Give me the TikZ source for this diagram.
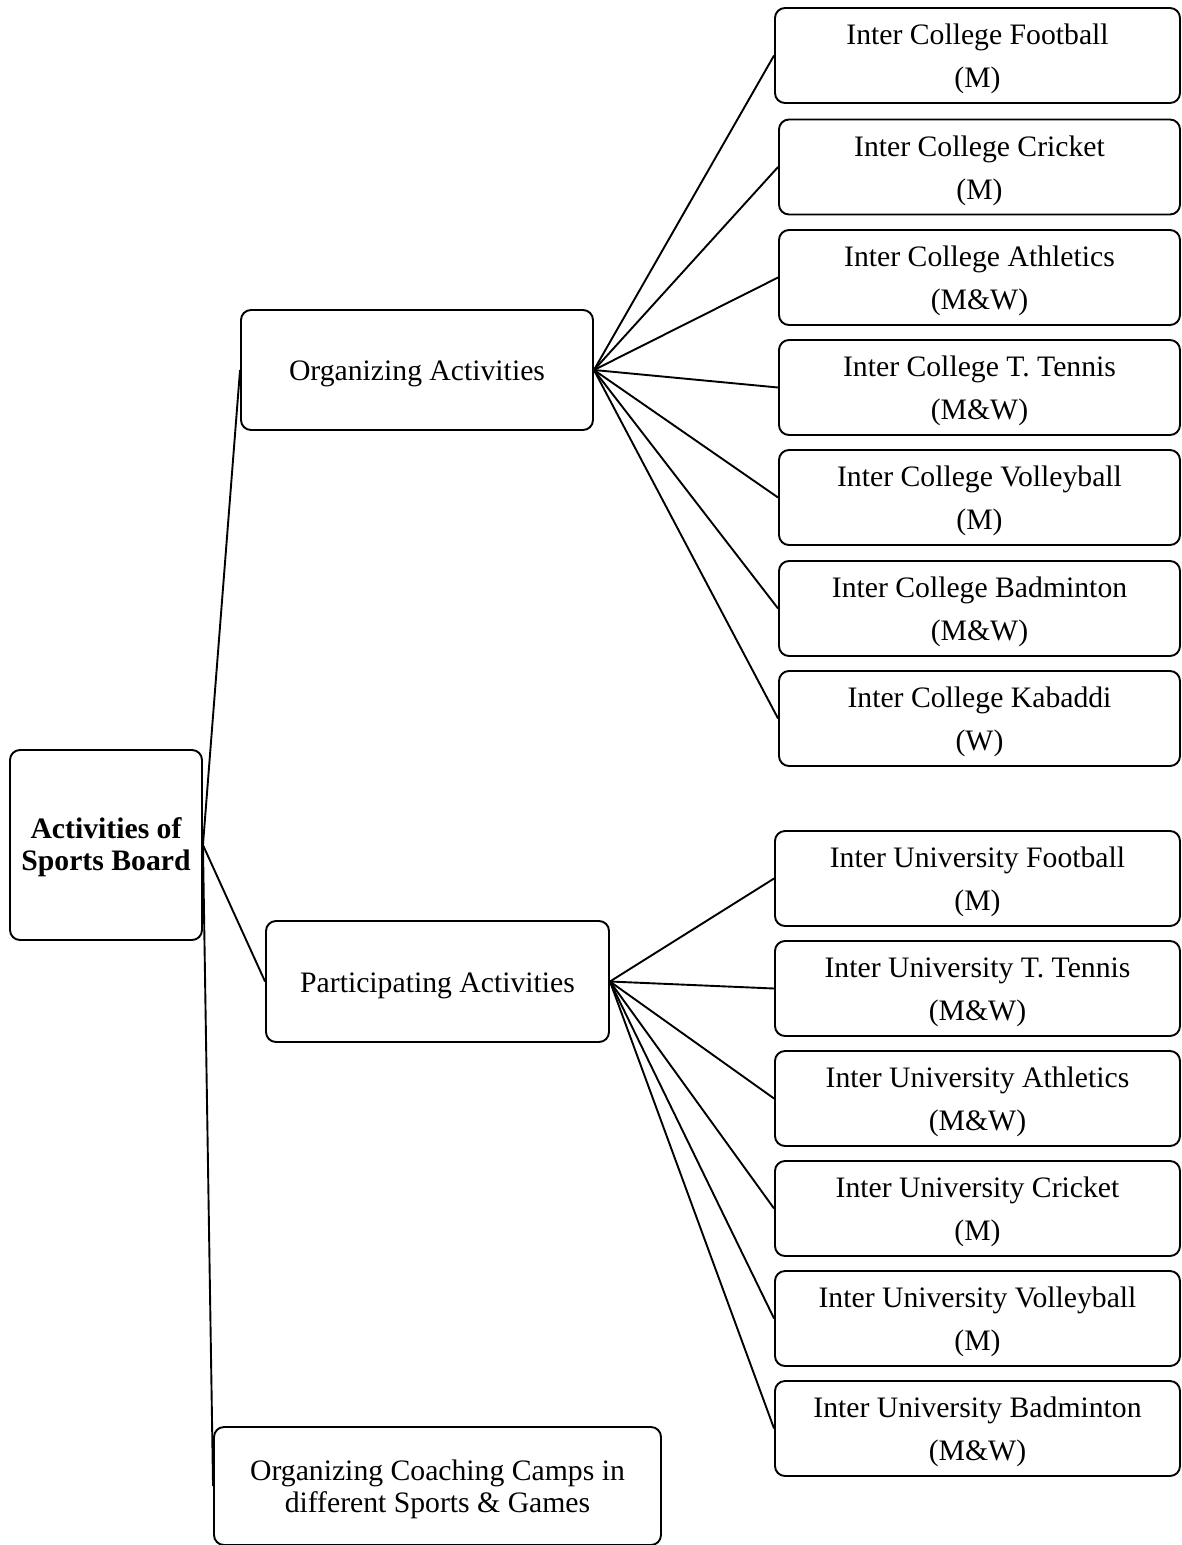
\documentclass[tikz,border=0pt]{standalone}
\usepackage{fontspec}
\setmainfont{Liberation Serif}
\newcommand\twoline[3][28pt]{\rule{0pt}{#1}#2\\#3}
\begin{document}
\begin{tikzpicture}[x=1pt,y=-1pt,
  box/.style={draw, line width=1.9pt, rounded corners=10pt, inner sep=0pt, align=center,
    font=\fontsize{29.7}{43}\selectfont},
  oneline/.style={box, execute at begin node={\rule{0pt}{28pt}}},
  leaf/.style={box, minimum width=401pt, minimum height=95pt},
  link/.style={line width=1.9pt}]
\useasboundingbox (0,0) rectangle (1182,1545);
% main nodes
\node[box, minimum width=192pt, minimum height=190pt, font=\fontsize{29.7}{32}\selectfont\bfseries] (root) at (106,845) {\twoline[25pt]{Activities of}{Sports Board}};
\node[oneline, minimum width=352pt, minimum height=120pt] (org) at (417,370) {Organizing Activities};
\node[oneline, minimum width=343pt, minimum height=121pt] (part) at (437.5,981.5) {Participating Activities};
\node[box, minimum width=447pt, minimum height=118pt, font=\fontsize{29.7}{32}\selectfont] (coach) at (437.5,1486) {\twoline[27pt]{Organizing Coaching Camps in}{different Sports \& Games}};
% college
\node[leaf, minimum width=405pt] (c1) at (977.5,55.5) {\twoline{Inter College Football}{(M)}};
\node[leaf] (c2) at (979.5,167) {\twoline{Inter College Cricket}{(M)}};
\node[leaf] (c3) at (979.5,277.5) {\twoline{Inter College Athletics}{(M\&W)}};
\node[leaf] (c4) at (979.5,387.5) {\twoline{Inter College T. Tennis}{(M\&W)}};
\node[leaf] (c5) at (979.5,497.5) {\twoline{Inter College Volleyball}{(M)}};
\node[leaf] (c6) at (979.5,608.5) {\twoline{Inter College Badminton}{(M\&W)}};
\node[leaf] (c7) at (979.5,718.5) {\twoline{Inter College Kabaddi}{(W)}};
% university
\node[leaf, minimum width=405pt] (u1) at (977.5,878.5) {\twoline{Inter University Football}{(M)}};
\node[leaf, minimum width=405pt] (u2) at (977.5,988.5) {\twoline{Inter University T. Tennis}{(M\&W)}};
\node[leaf, minimum width=405pt] (u3) at (977.5,1098.5) {\twoline{Inter University Athletics}{(M\&W)}};
\node[leaf, minimum width=405pt] (u4) at (977.5,1208.5) {\twoline{Inter University Cricket}{(M)}};
\node[leaf, minimum width=405pt] (u5) at (977.5,1318.5) {\twoline{Inter University Volleyball}{(M)}};
\node[leaf, minimum width=405pt] (u6) at (977.5,1428.5) {\twoline{Inter University Badminton}{(M\&W)}};
% connectors
\draw[link] (root.east) -- (org.west);
\draw[link] (root.east) -- (part.west);
\draw[link] (root.east) -- (coach.west);
\foreach \n in {c1,c2,c3,c4,c5,c6,c7} \draw[link] (org.east) -- (\n.west);
\foreach \n in {u1,u2,u3,u4,u5,u6} \draw[link] (part.east) -- (\n.west);
\end{tikzpicture}
\end{document}
